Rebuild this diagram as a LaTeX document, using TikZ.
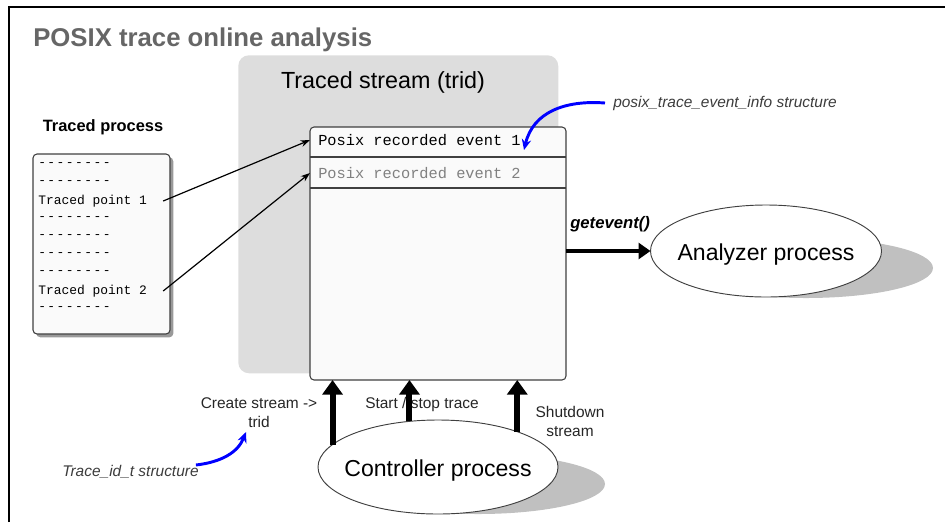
\documentclass[tikz,border=0pt]{standalone}
\usepackage{fontspec}
\setmainfont{Liberation Sans}
\setmonofont{Liberation Mono}
\usetikzlibrary{arrows.meta,shapes.geometric,shadows,backgrounds}
\definecolor{titlegray}{RGB}{102,102,102}
\definecolor{streambg}{RGB}{221,221,221}
\definecolor{boxfill}{RGB}{250,250,250}
\definecolor{edgegray}{RGB}{64,64,64}
\definecolor{shadowgray}{RGB}{192,192,192}
\definecolor{notegray}{RGB}{60,60,60}
\newcommand\dashrow{-\hspace{1.1pt}-\hspace{1.1pt}-\hspace{1.1pt}-\hspace{1.1pt}-\hspace{1.1pt}-\hspace{1.1pt}-\hspace{1.1pt}-}
\tikzset{
  recbox/.style={draw=edgegray, fill=boxfill, rounded corners=3pt, line width=0.8pt, inner sep=0pt, outer sep=0pt},
  procell/.style={ellipse, draw=edgegray, fill=white, line width=0.7pt, inner sep=0pt, outer sep=0pt},
  src/.style={font={\ttfamily\fontsize{9.7}{11}\selectfont}, anchor=west, inner sep=0pt},
  evtext/.style={font={\ttfamily\fontsize{11.5}{13}\selectfont}, anchor=west, inner sep=0pt},
  lbl/.style={font={\fontsize{11.6}{14.25}\selectfont}, align=center, inner sep=0pt, text=black!85},
  note/.style={font={\itshape\fontsize{11.6}{14}\selectfont}, text=notegray, anchor=west, inner sep=0pt},
  bigname/.style={font={\fontsize{17.3}{21}\selectfont}, yshift=-2.5pt},
  thin arrow/.style={-{Stealth[length=7pt,width=5pt]}, line width=0.9pt},
  fat arrow/.style={-{Triangle[length=11pt,width=15pt]}, line width=4.5pt},
  blue arrow/.style={-{Stealth[length=8pt,width=7pt]}, blue, line width=2.2pt},
}

\begin{document}
\begin{tikzpicture}[x=0.75pt,y=-0.75pt]
\useasboundingbox (0,0) rectangle (945,522);
% frame and title
\draw[line width=1.1pt] (9,522) -- (9,7) -- (945,7);
\node[anchor=base west, font={\bfseries\fontsize{19.3}{23}\selectfont}, text=titlegray, inner sep=0pt] (title) at (33,46) {POSIX trace online analysis};
%
% traced stream
\node[fill=streambg, rounded corners=8pt, minimum width=240pt, minimum height=238.5pt, anchor=north west, inner sep=0pt] (trbg) at (238,55) {};
\node[font={\fontsize{17.5}{21}\selectfont}] (trname) at (383,82) {Traced stream (trid)};
\node[recbox, minimum width=192pt, minimum height=189.75pt, anchor=north west] (evbox) at (310,127) {};
\draw[edgegray, line width=0.8pt] (evbox.west |- 0,157) -- (evbox.east |- 0,157);
\draw[edgegray, line width=0.8pt] (evbox.west |- 0,188) -- (evbox.east |- 0,188);
\node[evtext] (ev1) at (318,140) {Posix recorded event 1};
\node[evtext, text=gray] (ev2) at (318,173) {Posix recorded event 2};
%
% traced process
\node[font={\bfseries\fontsize{12.3}{15}\selectfont}] (tpname) at (103,127) {Traced process};
\node[recbox, drop shadow={shadow xshift=2.5pt, shadow yshift=-2.5pt, fill=black!40, opacity=1}, minimum width=102.75pt, minimum height=135pt, anchor=north west] (procbox) at (33,154) {};
\node[src] (r1) at (38,165) {\dashrow};
\node[src] (r2) at (38,183) {\dashrow};
\node[src] (tp1) at (38,201) {Traced point 1};
\node[src] (r4) at (38,219) {\dashrow};
\node[src] (r5) at (38,237) {\dashrow};
\node[src] (r6) at (38,255) {\dashrow};
\node[src] (r7) at (38,273) {\dashrow};
\node[src] (tp2) at (38,291) {Traced point 2};
\node[src] (r9) at (38,309) {\dashrow};
%
\draw[thin arrow] ([xshift=12pt]tp1.east) -- (evbox.west |- ev1);
\draw[thin arrow] ([xshift=12pt]tp2.east) -- (evbox.west |- ev2);
%
% analyzer
\node[procell, minimum width=173.25pt, minimum height=69pt, label={[bigname]center:Analyzer process}] (ana) at (766,251) {};
\node[font={\bfseries\itshape\fontsize{12.5}{15}\selectfont}, anchor=west, inner sep=0pt] (getev) at (570,224) {getevent()};
\draw[line width=3.5pt, -{Triangle[length=9pt,width=12pt]}] (evbox.east |- ana.west) -- (ana.west);
%
% controller
\node[procell, minimum width=180pt, minimum height=70.5pt, label={[bigname]center:Controller process}] (ctrl) at (438,467) {};
\begin{scope}[on background layer]
\fill[shadowgray] ([xshift=30pt,yshift=-12.75pt]ana.center) ellipse [x radius=95.25pt, y radius=22.5pt];
\fill[shadowgray] ([xshift=30pt,yshift=-12.75pt]ctrl.center) ellipse [x radius=95.25pt, y radius=22.5pt];
\end{scope}
\node[lbl] (create) at (259,413) {Create stream ->\\trid};
\node[lbl] (startstop) at (422,404) {Start / stop trace};
\node[lbl] (shut) at (570,421) {Shutdown\\stream};
\draw[fat arrow] (ctrl.168) -- (ctrl.168 |- evbox.south);
\draw[fat arrow] (ctrl.122) -- (ctrl.122 |- evbox.south);
\draw[fat arrow] (ctrl.24) -- (ctrl.24 |- evbox.south);
%
% notes
\node[note] (pinfo) at (613,103) {posix\_trace\_event\_info structure};
\node[note] (tidnote) at (62,472) {Trace\_id\_t structure};
\coordinate (ev1tip) at (524,150);
\coordinate (tridtip) at (246,432);
\draw[blue arrow] ([xshift=-6pt]pinfo.west) .. controls (565,100) and (533,112) .. (ev1tip);
\draw[blue arrow] ([xshift=-2.25pt,yshift=5.25pt]tidnote.east) .. controls (222,462) and (238,452) .. (tridtip);
\end{tikzpicture}
\end{document}
